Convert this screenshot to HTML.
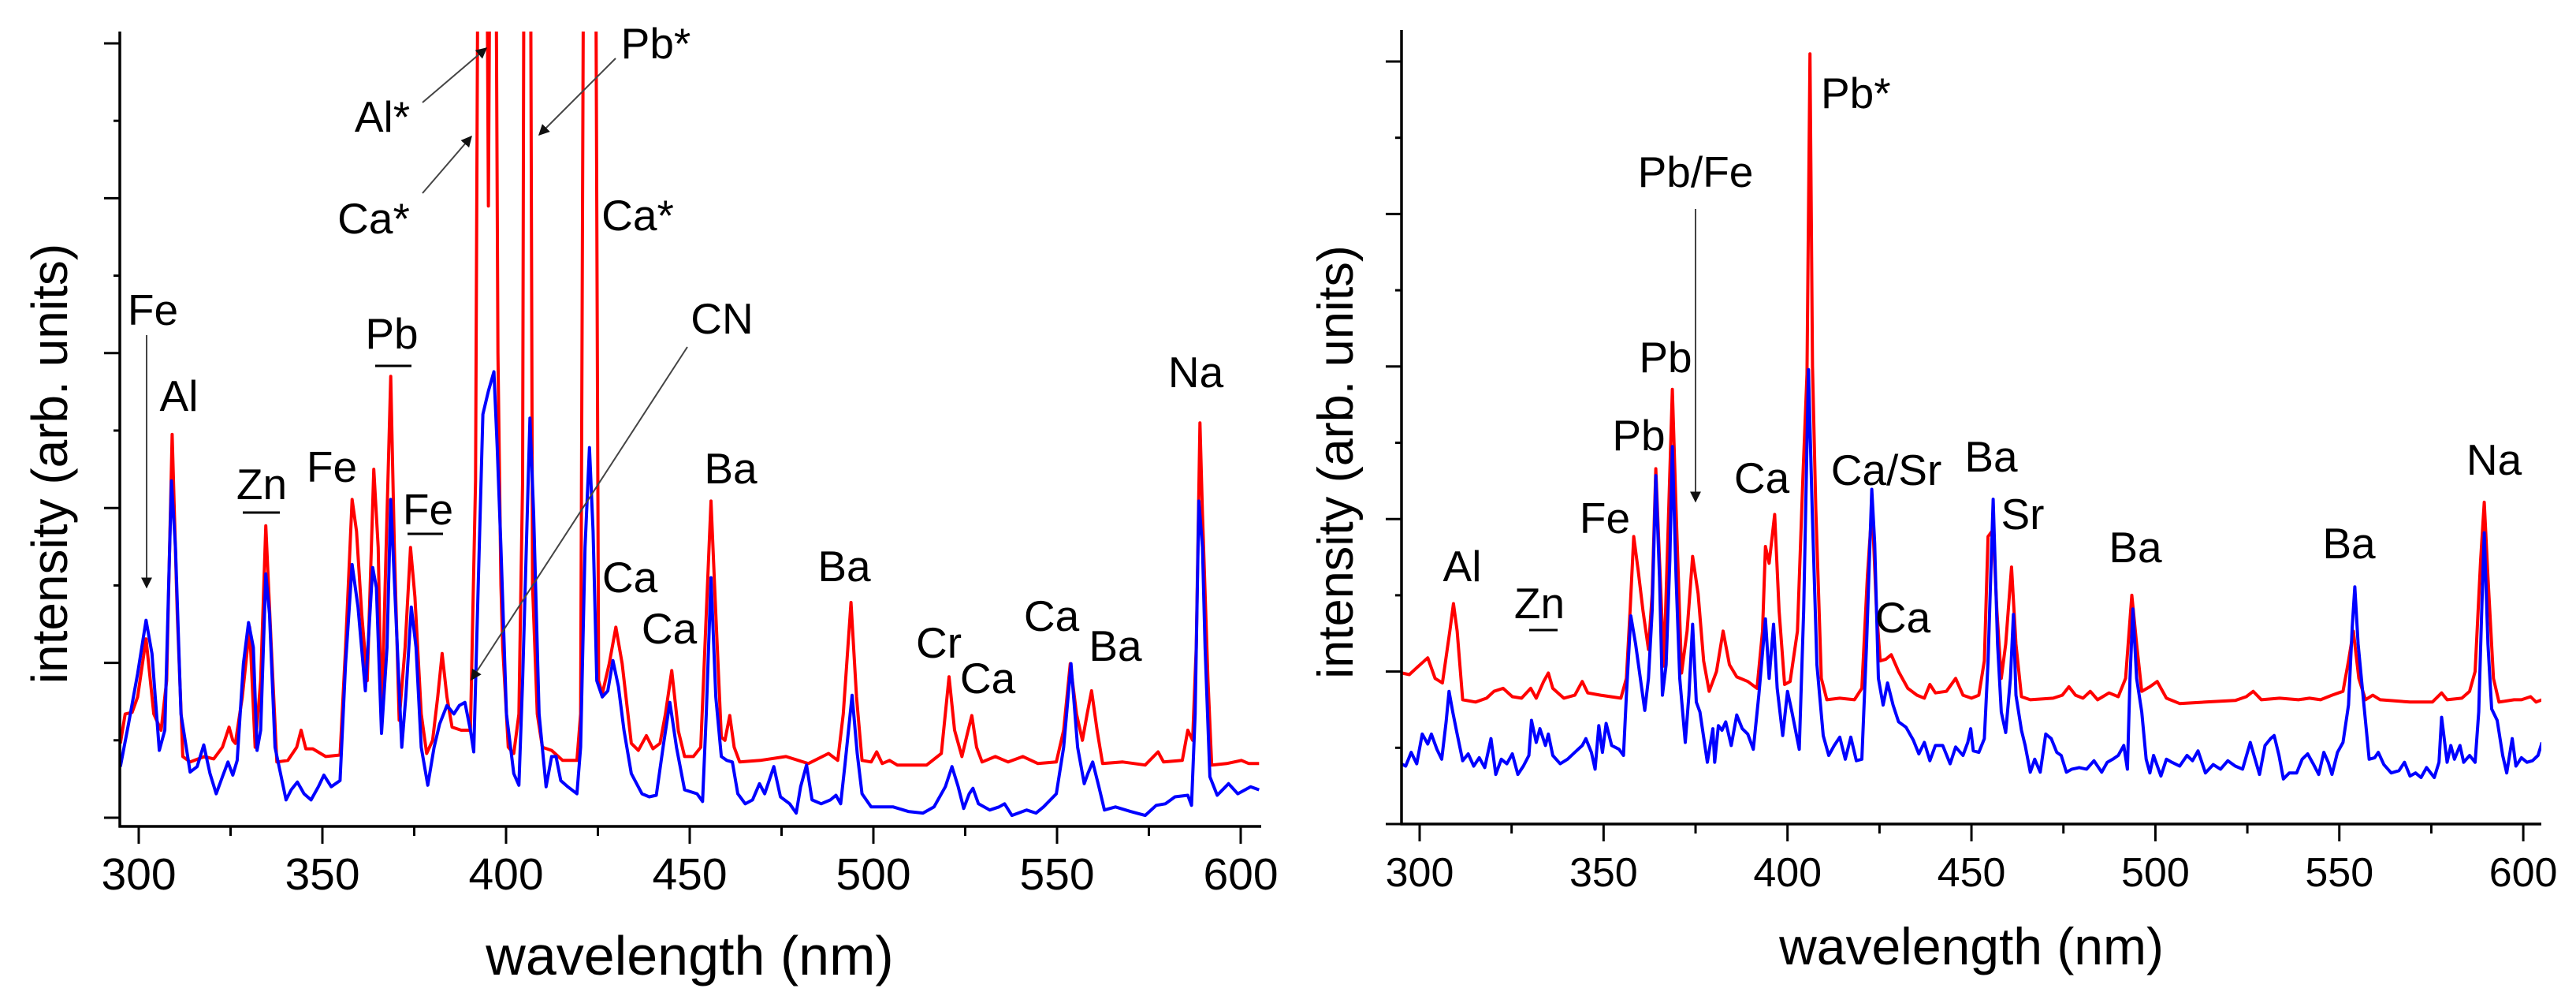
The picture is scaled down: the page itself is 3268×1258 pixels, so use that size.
<!DOCTYPE html>
<html><head><meta charset="utf-8"><style>
html,body{margin:0;padding:0;background:#fff;}
svg{display:block;font-family:"Liberation Sans",Arial,sans-serif;}
.lbl{font-size:55px;fill:#000;}
</style></head><body>
<svg id="fig" width="3268" height="1258" viewBox="0 0 3268 1258" xmlns="http://www.w3.org/2000/svg">
<defs>
<clipPath id="clipL"><rect x="152" y="40" width="1448" height="1008"/></clipPath>
<clipPath id="clipR"><rect x="1778" y="38" width="1446" height="1007"/></clipPath>
<marker id="ah" viewBox="0 0 10 10" refX="9" refY="5" markerWidth="7" markerHeight="7" orient="auto-start-reverse"><path d="M0,0 L10,5 L0,10 z" fill="#111"/></marker>
</defs>
<g id="left"></g>
<g id="right"></g>

<g>
<text class="lbl" x="194" y="412" text-anchor="middle">Fe</text>
<line x1="186" y1="425" x2="186" y2="745" stroke="#444" stroke-width="2" marker-end="url(#ah)"/>
<text class="lbl" x="227" y="521" text-anchor="middle">Al</text>
<text class="lbl" x="332" y="633" text-anchor="middle">Zn</text>
<line x1="308" y1="650" x2="355" y2="650" stroke="#000" stroke-width="3"/>
<text class="lbl" x="421" y="611" text-anchor="middle">Fe</text>
<text class="lbl" x="497" y="442" text-anchor="middle">Pb</text>
<line x1="476" y1="464" x2="522" y2="464" stroke="#000" stroke-width="3"/>
<text class="lbl" x="543" y="665" text-anchor="middle">Fe</text>
<line x1="517" y1="677" x2="562" y2="677" stroke="#000" stroke-width="3"/>
<text class="lbl" x="485" y="167" text-anchor="middle">Al*</text>
<line x1="536" y1="130" x2="617" y2="61" stroke="#444" stroke-width="2" marker-end="url(#ah)"/>
<text class="lbl" x="474" y="296" text-anchor="middle">Ca*</text>
<line x1="536" y1="245" x2="598" y2="173" stroke="#444" stroke-width="2" marker-end="url(#ah)"/>
<text class="lbl" x="832" y="74" text-anchor="middle">Pb*</text>
<line x1="781" y1="74" x2="684" y2="171" stroke="#444" stroke-width="2" marker-end="url(#ah)"/>
<text class="lbl" x="809" y="292" text-anchor="middle">Ca*</text>
<text class="lbl" x="916" y="423" text-anchor="middle">CN</text>
<line x1="872" y1="440" x2="598" y2="862" stroke="#444" stroke-width="2" marker-end="url(#ah)"/>
<text class="lbl" x="799" y="751" text-anchor="middle">Ca</text>
<text class="lbl" x="849" y="816" text-anchor="middle">Ca</text>
<text class="lbl" x="927" y="613" text-anchor="middle">Ba</text>
<text class="lbl" x="1071" y="737" text-anchor="middle">Ba</text>
<text class="lbl" x="1191" y="834" text-anchor="middle">Cr</text>
<text class="lbl" x="1253" y="879" text-anchor="middle">Ca</text>
<text class="lbl" x="1334" y="800" text-anchor="middle">Ca</text>
<text class="lbl" x="1415" y="838" text-anchor="middle">Ba</text>
<text class="lbl" x="1517" y="491" text-anchor="middle">Na</text>
</g>

<g>
<text class="lbl" x="1855" y="737" text-anchor="middle">Al</text>
<text class="lbl" x="1953" y="784" text-anchor="middle">Zn</text>
<line x1="1940" y1="799" x2="1976" y2="799" stroke="#000" stroke-width="3"/>
<text class="lbl" x="2036" y="676" text-anchor="middle">Fe</text>
<text class="lbl" x="2079" y="571" text-anchor="middle">Pb</text>
<text class="lbl" x="2113" y="472" text-anchor="middle">Pb</text>
<text class="lbl" x="2151" y="237" text-anchor="middle">Pb/Fe</text>
<line x1="2151" y1="265" x2="2151" y2="636" stroke="#444" stroke-width="2" marker-end="url(#ah)"/>
<text class="lbl" x="2235" y="625" text-anchor="middle">Ca</text>
<text class="lbl" x="2310" y="137" text-anchor="start">Pb*</text>
<text class="lbl" x="2393" y="615" text-anchor="middle">Ca/Sr</text>
<text class="lbl" x="2414" y="802" text-anchor="middle">Ca</text>
<text class="lbl" x="2526" y="598" text-anchor="middle">Ba</text>
<text class="lbl" x="2566" y="671" text-anchor="middle">Sr</text>
<text class="lbl" x="2709" y="713" text-anchor="middle">Ba</text>
<text class="lbl" x="2980" y="708" text-anchor="middle">Ba</text>
<text class="lbl" x="3164" y="602" text-anchor="middle">Na</text>
</g>
</svg>
<script>
const xTicks = [300, 350, 400, 450, 500, 550, 600];
const xMinorTicks = [325, 375, 425, 475, 525, 575];
const yTickIdx = [0,1,2,3,4,5,6,7,8,9,10];

const leftRed = [[295,0.96],[296.3,1.34],[298.2,1.36],[299.7,1.56],[302.0,2.31],[304.1,1.34],[306.1,1.13],[307.6,1.77],[309.1,4.95],[310.5,2.63],[312.0,0.79],[314.0,0.72],[317.9,0.79],[320.4,0.76],[322.8,0.91],[324.6,1.17],[325.6,1.0],[326.3,0.96],[328.2,1.56],[330.2,2.46],[331.7,0.91],[333.2,1.77],[334.6,3.77],[336.1,2.2],[337.6,0.72],[340.6,0.74],[343.0,0.91],[344.2,1.13],[345.5,0.89],[347.4,0.89],[350.9,0.79],[354.8,0.81],[356.3,2.2],[358.1,4.11],[359.3,3.70],[360.7,2.63],[362.2,1.77],[364.0,4.50],[365.2,3.49],[366.1,1.21],[367.6,3.92],[368.6,5.70],[369.6,3.49],[370.9,1.26],[372.5,2.2],[374.0,3.49],[375.2,2.85],[376.9,1.34],[378.4,0.83],[380.0,1.0],[381.4,1.56],[382.6,2.12],[383.9,1.56],[385.3,1.17],[387.8,1.13],[390.3,1.13],[391.7,4.35],[392.4,12],[393.3,14],[394.5,14],[395.2,7.9],[395.9,14],[397.0,14],[397.8,6],[398.6,3.0],[399.1,2.2],[400.6,0.91],[402.1,0.83],[403.5,1.34],[404.5,4.35],[405.0,14],[406.5,14],[407.2,3.0],[408.5,1.34],[409.9,0.91],[412.4,0.87],[415.4,0.74],[419.3,0.74],[420.3,1.34],[421.3,14],[424.2,14],[425.2,1.77],[426.2,1.60],[428.1,1.99],[429.9,2.46],[431.6,1.99],[434.1,0.96],[436.0,0.87],[438.2,1.06],[440.0,0.89],[441.9,0.96],[443.4,1.34],[445.1,1.90],[446.9,1.12],[448.6,0.79],
[449.0,0.79],[451.0,0.79],[453.0,0.91],[454.5,2.63],[455.8,4.09],[457.1,2.63],[458.6,1.04],[459.6,1.0],[460.9,1.32],[462.1,0.91],[463.6,0.72],[469.2,0.74],[476.2,0.79],[482.3,0.70],[487.8,0.83],[490.3,0.74],[491.8,1.34],[493.9,2.78],[495.4,1.56],[496.9,0.74],[499.4,0.72],[500.9,0.85],[502.4,0.70],[504.4,0.74],[506.5,0.68],[514.5,0.68],[518.5,0.83],[520.6,1.82],[522.1,1.13],[524.1,0.79],[525.6,1.09],[526.8,1.32],[528.1,0.91],[529.6,0.72],[533.2,0.79],[536.7,0.72],[540.7,0.79],[544.8,0.70],[549.8,0.72],[551.8,1.13],[553.6,1.99],[555.3,1.34],[556.9,1.00],[558.2,1.34],[559.4,1.64],[560.9,1.13],[562.4,0.70],[567.9,0.72],[574.0,0.68],[577.5,0.85],[579.0,0.72],[584.1,0.74],[585.6,1.13],[586.9,1.00],[587.9,2.2],[588.9,5.10],[589.6,3.92],[591.1,1.77],[592.1,0.68],[596.2,0.70],[600.2,0.74],[602.2,0.70],[605.0,0.70]];

const leftBlue = [[295,0.66],[297.2,1.21],[299.7,1.86],[302.0,2.55],[303.6,2.12],[305.6,0.87],[307.1,1.13],[308.9,4.35],[310.0,3.49],[311.5,1.34],[314.0,0.59],[315.9,0.66],[317.7,0.94],[319.4,0.57],[321.1,0.31],[322.8,0.53],[324.3,0.72],[325.6,0.55],[326.8,0.74],[328.5,1.99],[329.9,2.52],[331.2,2.2],[332.2,0.87],[333.2,1.13],[334.6,3.15],[335.6,2.63],[337.1,0.91],[340.1,0.23],[341.5,0.36],[343.2,0.46],[345.0,0.31],[346.9,0.23],[348.9,0.40],[350.4,0.55],[352.4,0.40],[354.8,0.48],[356.3,1.99],[358.1,3.27],[359.7,2.72],[361.7,1.64],[363.7,3.23],[364.7,2.97],[366.1,1.09],[367.6,2.2],[368.6,4.11],[369.6,3.06],[371.6,0.91],[372.7,1.56],[374.2,2.72],[375.5,2.2],[376.9,0.91],[378.7,0.42],[380.4,0.91],[381.9,1.21],[383.9,1.45],[385.8,1.34],[387.3,1.45],[388.8,1.49],[390.3,1.13],[391.2,0.85],[392.2,2.63],[393.7,5.21],[395.2,5.51],[396.7,5.76],[397.6,4.78],[398.6,3.49],[400.1,1.34],[402.1,0.57],[403.5,0.42],[404.5,1.77],[406.5,5.16],[407.5,3.92],[409.0,1.34],[410.9,0.40],[412.4,0.79],[413.6,0.79],[414.9,0.48],[416.8,0.40],[419.3,0.31],[420.3,0.91],[421.5,3.49],[422.7,4.78],[423.7,3.70],[424.7,1.77],[426.2,1.56],[427.7,1.64],[429.1,2.03],[430.6,1.69],[432.1,1.13],[434.1,0.57],[437.0,0.31],[439.0,0.27],[440.9,0.29],[442.9,0.96],[444.6,1.49],[446.4,0.91],[448.6,0.36],
[452.0,0.31],[453.5,0.21],[454.5,1.34],[455.8,3.10],[457.1,1.56],[458.6,0.79],[460.1,0.74],[461.6,0.72],[463.1,0.31],[465.1,0.18],[467.1,0.23],[469.0,0.44],[470.4,0.31],[472.9,0.66],[474.7,0.27],[477.2,0.18],[479.0,0.06],[480.2,0.40],[481.8,0.68],[483.3,0.23],[485.8,0.18],[488.3,0.23],[489.8,0.29],[491.1,0.18],[492.3,0.70],[494.2,1.58],[495.6,0.83],[496.9,0.31],[499.4,0.14],[505.4,0.14],[509.5,0.08],[513.5,0.06],[516.5,0.14],[519.6,0.40],[521.4,0.66],[523.1,0.40],[524.6,0.12],[526.1,0.31],[527.1,0.38],[528.6,0.18],[531.7,0.10],[534.2,0.14],[535.7,0.18],[537.7,0.03],[541.7,0.10],[544.3,0.06],[546.3,0.14],[549.8,0.31],[551.8,0.91],[553.8,1.99],[555.6,0.91],[557.4,0.44],[558.4,0.57],[559.7,0.72],[561.4,0.40],[562.9,0.10],[565.9,0.14],[570.0,0.08],[574.0,0.03],[577.0,0.16],[579.5,0.18],[582.1,0.27],[585.6,0.29],[586.6,0.16],[587.6,1.34],[588.6,4.09],[589.6,3.49],[590.3,2.2],[591.6,0.53],[593.6,0.29],[596.7,0.44],[599.2,0.31],[602.7,0.40],[605.0,0.36]];

const rightRed = [[295.2,1.98],[297.2,1.96],[299.2,2.05],[302.2,2.18],[304.2,1.91],[306.2,1.85],[308.2,2.53],[309.2,2.89],[310.2,2.53],[311.7,1.63],[315.2,1.60],[318.2,1.65],[320.2,1.74],[322.7,1.78],[325.2,1.67],[327.7,1.65],[330.2,1.78],[331.7,1.65],[333.7,1.87],[335.0,1.98],[336.2,1.78],[339.2,1.65],[342.2,1.69],[344.2,1.87],[345.7,1.72],[349.2,1.69],[354.7,1.65],[356.2,1.91],[357.2,2.80],[358.2,3.77],[359.4,3.33],[360.7,2.80],[362.2,2.29],[363.2,3.02],[364.2,4.66],[365.2,3.46],[366.4,2.07],[367.7,4.13],[368.7,5.70],[369.7,4.13],[371.2,1.98],[372.7,2.53],[374.2,3.51],[375.7,3.02],[377.2,2.14],[378.7,1.74],[380.7,2.00],[382.5,2.53],[384.2,2.09],[386.2,1.93],[389.2,1.87],[391.7,1.78],[393.2,2.53],[394.0,3.64],[395.0,3.42],[396.5,4.06],[397.7,2.80],[399.2,1.83],[400.7,1.87],[402.7,2.53],[404.2,4.57],[405.3,5.9],[406.1,10.1],[406.8,6.0],[407.7,4.13],[409.2,1.91],[410.7,1.63],[414.2,1.65],[418.2,1.63],[420.2,1.78],[421.7,3.24],[423.0,4.17],[424.2,2.80],[425.2,2.14],[426.7,2.16],[428.2,2.22],[430.2,2.00],[432.7,1.78],[435.2,1.69],[437.2,1.65],[438.7,1.83],[440.2,1.72],[443.2,1.74],[445.7,1.91],[447.7,1.69],[450.0,1.65],
[452.0,1.69],[453.5,2.14],[454.5,3.77],[455.9,3.86],[456.9,2.80],[458.1,1.91],[459.3,2.36],[460.9,3.37],[462.1,2.36],[463.6,1.67],[466.0,1.63],[472.2,1.65],[474.7,1.69],[476.5,1.80],[478.3,1.69],[480.3,1.65],[482.3,1.74],[484.3,1.63],[487.4,1.72],[489.9,1.67],[491.9,1.91],[493.6,3.00],[494.9,2.36],[496.3,1.74],[498.5,1.80],[500.5,1.87],[503.0,1.65],[506.6,1.58],[513.6,1.60],[521.7,1.62],[524.7,1.67],[526.6,1.74],[528.8,1.63],[533.8,1.65],[538.9,1.63],[541.9,1.65],[544.9,1.63],[548.0,1.69],[551.0,1.74],[552.5,2.14],[553.8,2.53],[555.3,1.91],[557.1,1.63],[559.1,1.69],[561.1,1.63],[569.2,1.60],[575.3,1.60],[577.8,1.72],[579.3,1.63],[583.3,1.65],[585.4,1.74],[586.9,2.00],[588.4,3.46],[589.4,4.22],[590.4,3.24],[591.9,1.91],[593.4,1.60],[597.5,1.63],[599.5,1.63],[602.0,1.67],[603.5,1.60],[605.1,1.63]];

const rightBlue = [[295.0,0.79],[296.2,0.76],[297.7,0.94],[299.2,0.79],[300.7,1.18],[302.2,1.05],[303.2,1.18],[304.7,0.98],[306.0,0.85],[307.2,1.34],[308.0,1.74],[309.0,1.47],[310.2,1.18],[311.7,0.83],[313.2,0.92],[314.7,0.76],[316.2,0.87],[317.7,0.74],[319.4,1.12],[320.7,0.65],[322.2,0.85],[323.7,0.79],[325.2,0.92],[326.7,0.65],[328.2,0.76],[329.7,0.90],[330.4,1.36],[331.7,1.07],[332.7,1.25],[334.2,1.03],[335.0,1.18],[336.2,0.90],[338.2,0.79],[340.2,0.85],[342.2,0.94],[344.2,1.03],[345.2,1.12],[346.7,0.94],[347.7,0.72],[348.7,1.29],[349.7,0.94],[350.7,1.32],[352.2,1.03],[354.2,0.98],[355.4,0.90],[356.2,1.69],[357.4,2.73],[358.7,2.36],[360.0,1.91],[361.2,1.49],[362.2,1.91],[363.2,2.80],[364.2,4.57],[365.2,3.24],[366.0,1.69],[367.0,2.09],[368.0,3.46],[368.7,4.95],[369.7,3.24],[370.7,1.91],[372.2,1.07],[373.2,1.69],[374.2,2.62],[375.2,1.60],[376.2,1.47],[378.2,0.81],[379.7,1.25],[380.2,0.81],[381.2,1.29],[382.2,1.23],[383.2,1.34],[384.7,1.03],[386.2,1.43],[387.7,1.25],[389.2,1.18],[390.7,0.98],[392.2,1.69],[394.0,2.69],[395.0,1.91],[396.2,2.62],[397.2,1.78],[398.7,1.16],[400.0,1.74],[401.2,1.47],[403.2,0.98],[404.4,2.80],[405.7,5.96],[406.7,4.13],[408.0,2.09],[409.7,1.16],[411.2,0.90],[412.7,1.03],[414.2,1.14],[415.7,0.85],[417.2,1.14],[418.7,0.83],[420.2,0.85],[421.5,2.36],[422.9,4.39],[423.7,3.68],[424.7,1.91],[426.0,1.56],[427.2,1.85],[428.7,1.56],[430.2,1.34],[432.2,1.27],[434.2,1.10],[435.7,0.92],[437.2,1.07],[438.7,0.83],[440.2,1.03],[442.2,1.03],[444.2,0.79],[445.7,1.01],[447.7,0.90],[449.0,1.07],[449.8,1.25],[450.5,0.96],[452.0,0.94],[453.5,1.12],[454.5,2.13],[455.9,4.26],[457.1,2.36],[458.1,1.47],[459.3,1.20],[460.6,1.91],[461.4,2.75],[462.1,1.69],[463.6,1.23],[464.6,1.03],[466.0,0.68],[467.2,0.85],[468.7,0.68],[470.2,1.18],[471.7,1.12],[473.2,0.94],[474.4,0.90],[475.8,0.68],[477.3,0.72],[479.3,0.74],[481.3,0.72],[483.3,0.83],[485.4,0.68],[486.9,0.81],[488.4,0.85],[489.9,0.90],[491.4,1.03],[492.4,0.72],[493.1,1.91],[493.9,2.82],[494.9,1.91],[496.3,1.47],[497.5,0.85],[498.5,0.67],[499.5,0.90],[501.5,0.63],[503.0,0.85],[504.5,0.81],[506.6,0.76],[508.6,0.90],[510.1,0.83],[511.6,0.96],[513.6,0.67],[515.7,0.78],[517.7,0.72],[519.7,0.83],[521.7,0.76],[523.7,0.72],[525.8,1.07],[526.8,0.90],[528.3,0.65],[529.8,1.03],[531.3,1.12],[532.3,1.16],[533.6,0.90],[534.8,0.59],[536.4,0.67],[538.4,0.67],[539.9,0.85],[541.4,0.92],[542.9,0.79],[544.4,0.65],[545.8,0.94],[547.0,0.81],[548.0,0.65],[549.5,0.94],[551.0,1.07],[552.5,1.56],[553.5,2.58],[554.2,3.11],[555.1,2.36],[556.6,1.60],[558.1,0.85],[559.6,0.87],[560.6,0.94],[562.1,0.78],[564.1,0.67],[566.2,0.70],[567.7,0.81],[569.2,0.63],[570.7,0.67],[572.2,0.61],[573.7,0.74],[575.8,0.61],[577.1,0.81],[577.8,1.40],[579.3,0.81],[580.3,1.03],[581.3,0.85],[582.8,1.03],[583.8,0.81],[585.4,0.90],[586.9,0.81],[587.9,1.47],[588.7,2.80],[589.4,3.82],[590.4,2.36],[591.4,1.51],[592.9,1.36],[594.4,0.90],[595.5,0.67],[597.0,1.12],[598.0,0.76],[599.5,0.87],[601.0,0.81],[602.5,0.83],[604.0,0.90],[605.1,1.07]];

const NS = "http://www.w3.org/2000/svg";
function mk(tag, attrs, parent){ const e=document.createElementNS(NS,tag); for(const k in attrs) e.setAttribute(k,attrs[k]); parent.appendChild(e); return e; }

const panels = [
  {g:document.getElementById('left'), clip:'clipL', x0:152, x1:1600, yTop:40, yBot:1048,
   xs:w=>176+(w-300)*4.66, ys:v=>1037-v*98.2, tickFont:57, titleFont:70, yTitleFont:64,
   xTitleY:1236, tickLabelY:1128, yTitleX:63, yTitleY:588, red:leftRed, blue:leftBlue, pre:'left'},
  {g:document.getElementById('right'), clip:'clipR', x0:1778, x1:3224, yTop:38, yBot:1045,
   xs:w=>1801+(w-300)*4.667, ys:v=>1045-v*96.7, tickFont:52, titleFont:66, yTitleFont:63,
   xTitleY:1223, tickLabelY:1124, yTitleX:1694, yTitleY:586, red:rightRed, blue:rightBlue, pre:'right'}
];

panels.forEach(p=>{
  const g=p.g;
  const sorted = a => a.slice().sort((u,v)=>u[0]-v[0]);
  const path = a => sorted(a).map((d,i)=>(i?'L':'M')+p.xs(d[0]).toFixed(1)+','+p.ys(d[1]).toFixed(1)).join(' ');
  const clipG = mk('g',{'clip-path':'url(#'+p.clip+')'},g);
  const pr = mk('path',{d:path(p.red),fill:'none',stroke:'#ff0000','stroke-width':4,'stroke-linejoin':'round'},clipG);
  
  
  const pb = mk('path',{d:path(p.blue),fill:'none',stroke:'#0000ff','stroke-width':4,'stroke-linejoin':'round'},clipG);
  
  

  const ya = mk('line',{x1:p.x0,y1:p.yTop,x2:p.x0,y2:p.yBot+1.5,stroke:'#000','stroke-width':3.5},g);
  
  
  const xa = mk('line',{x1:p.x0-1.5,y1:p.yBot,x2:p.x1,y2:p.yBot,stroke:'#000','stroke-width':3.5},g);
  
  

  yTickIdx.forEach(k=>{
    const y=p.ys(k), len = k%2===0?20:8;
    const t=mk('line',{x1:p.x0-len,y1:y,x2:p.x0,y2:y,stroke:'#000','stroke-width':3},g);
    
    
  });
  xTicks.forEach(w=>{
    const x=p.xs(w);
    const t=mk('line',{x1:x,y1:p.yBot,x2:x,y2:p.yBot+22,stroke:'#000','stroke-width':3},g);
    
    
    const l=mk('text',{x:x,y:p.tickLabelY,'text-anchor':'middle','font-size':p.tickFont},g);
    l.textContent=w;
    
    
  });
  xMinorTicks.forEach(w=>{
    const x=p.xs(w);
    const t=mk('line',{x1:x,y1:p.yBot,x2:x,y2:p.yBot+12,stroke:'#000','stroke-width':3},g);
    
    
  });
  const xt=mk('text',{x:(p.xs(300)+p.xs(600))/2,y:p.xTitleY,'text-anchor':'middle','font-size':p.titleFont},g);
  xt.textContent='wavelength (nm)';
  
  
  const yt=mk('text',{x:0,y:0,'text-anchor':'middle','font-size':p.yTitleFont,transform:'translate('+(p.yTitleX+22)+','+p.yTitleY+') rotate(-90)'},g);
  yt.textContent='intensity (arb. units)';
  
  
});
</script>
</body></html>
